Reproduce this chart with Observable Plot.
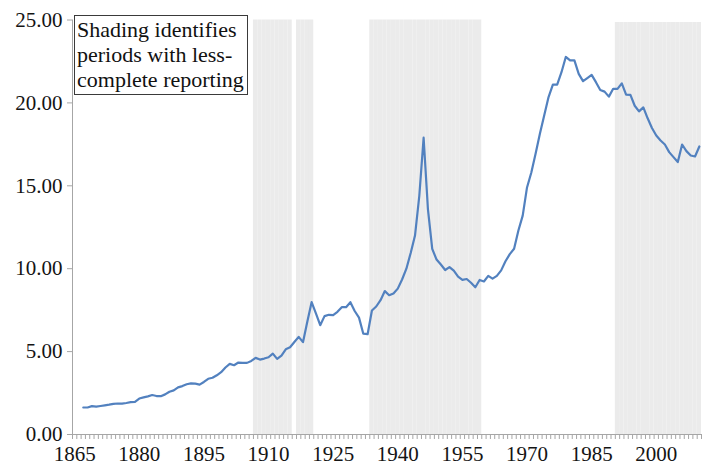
<!DOCTYPE html>
<html>
<head>
<meta charset="utf-8">
<script src="https://cdn.jsdelivr.net/npm/d3@7"></script>
<script src="https://cdn.jsdelivr.net/npm/@observablehq/plot@0.6"></script>
<style>
  body { margin: 0; background: #fff; }
  #wrap { position: relative; width: 714px; height: 474px; font-family: "Liberation Serif", "Times New Roman", serif; }
  #note {
    position: absolute; left: 74px; top: 15px;
    border: 1.5px solid #3a3a3a; background: #fff;
    font-family: "Liberation Serif", "Times New Roman", serif;
    font-size: 22px; line-height: 25px; color: #111;
    padding: 1px 3px 2px 2px; white-space: nowrap;
  }
</style>
</head>
<body>
<div id="wrap"><div id="note">Shading identifies<br>periods with less-<br>complete reporting</div></div>
<script>
// Categories (years)
const years = [
  1867, 1868, 1869,
  1870, 1871, 1872, 1873, 1874, 1875, 1876, 1877, 1878, 1879,
  1880, 1881, 1882, 1883, 1884, 1885, 1886, 1887, 1888, 1889,
  1890, 1891, 1892, 1893, 1894, 1895, 1896, 1897, 1898, 1899,
  1900, 1901, 1902, 1903, 1904, 1905, 1906, 1907, 1908, 1909,
  1910, 1911, 1912, 1913, 1914, 1915, 1916, 1917, 1918, 1919,
  1920, 1921, 1922, 1923, 1924, 1925, 1926, 1927, 1928, 1929,
  1930, 1931, 1932, 1933, 1934, 1935, 1936, 1937, 1938, 1939,
  1940, 1941, 1942, 1943, 1944, 1945, 1946, 1947, 1948, 1949,
  1950, 1951, 1952, 1953, 1954, 1955, 1956, 1957, 1958, 1959,
  1960, 1961, 1962, 1963, 1964, 1965, 1966, 1967, 1968, 1969,
  1970, 1971, 1972, 1973, 1974, 1975, 1976, 1977, 1978, 1979,
  1980, 1981, 1982, 1983, 1984, 1985, 1986, 1987, 1988, 1989,
  1990, 1991, 1992, 1993, 1994, 1995, 1996, 1997, 1998, 1999,
  2000, 2001, 2002, 2003, 2004, 2005, 2006, 2007, 2008, 2009, 2010
];
// Series values
const values = [
  1.63, 1.63, 1.71,
  1.68, 1.72, 1.76, 1.80, 1.85, 1.87, 1.86, 1.90, 1.95, 1.97,
  2.17, 2.24, 2.30, 2.38, 2.32, 2.31, 2.42, 2.58, 2.66, 2.84,
  2.92, 3.03, 3.08, 3.07, 3.01, 3.17, 3.36, 3.42, 3.57, 3.76,
  4.04, 4.26, 4.18, 4.34, 4.32, 4.32, 4.44, 4.62, 4.52, 4.58,
  4.66, 4.88, 4.56, 4.76, 5.14, 5.26, 5.58, 5.89, 5.57, 6.80,
  7.98, 7.30, 6.59, 7.14, 7.22, 7.20, 7.40, 7.68, 7.68, 7.98,
  7.45, 7.05, 6.08, 6.05, 7.48, 7.72, 8.10, 8.65, 8.40, 8.50,
  8.80, 9.35, 10.00, 10.95, 12.00, 14.40, 17.90, 13.60, 11.20, 10.55,
  10.25, 9.92, 10.10, 9.88, 9.52, 9.33, 9.38, 9.15, 8.88, 9.32,
  9.23, 9.57, 9.40, 9.57, 9.90, 10.45, 10.88, 11.20, 12.30, 13.20,
  14.90, 15.80, 16.95, 18.15, 19.25, 20.35, 21.10, 21.10, 21.85, 22.77,
  22.56, 22.56, 21.75, 21.31, 21.50, 21.69, 21.25, 20.78, 20.68, 20.38,
  20.85, 20.85, 21.18, 20.50, 20.48, 19.83, 19.49, 19.73, 19.07, 18.49,
  18.03, 17.73, 17.49, 17.03, 16.73, 16.43, 17.49, 17.09, 16.83, 16.77, 17.37
];
// Shaded periods (less-complete reporting): first year, last year, top value
const shadeStart = [1907, 1917, 1934, 1991];
const shadeEnd   = [1915, 1920, 1959, 2010];
const shadeTop   = [25, 25, 25, 24.85];
// Tick labels
const xTickLabels = [1865, 1880, 1895, 1910, 1925, 1940, 1955, 1970, 1985, 2000];
const yTicks = [0, 5, 10, 15, 20, 25];
const firstCategory = 1865, lastCategory = 2010;

const data = years.map((y, i) => ({year: y, value: values[i]}));
const shadeRects = [];
shadeStart.forEach((s, k) => {
  for (let y = s; y <= shadeEnd[k]; y++) shadeRects.push({x1: y - 0.5, x2: y + 0.5, top: shadeTop[k]});
});
const yearBoundaries = d3.range(firstCategory - 0.5, lastCategory + 1, 1);

const axisGray = "#a6a6a6";
const textColor = "#141414";

const chart = Plot.plot({
  width: 714,
  height: 474,
  marginLeft: 72,
  marginRight: 13,
  marginTop: 19.5,
  marginBottom: 40,
  style: {fontFamily: "'Liberation Serif', 'Times New Roman', serif", background: "#fff", color: textColor},
  x: {domain: [firstCategory - 0.5, lastCategory + 0.5], axis: null, label: null},
  y: {domain: [0, 25], axis: null, label: null},
  marks: [
    Plot.rect(shadeRects, {x1: "x1", x2: "x2", y1: 0, y2: "top", fill: "#ebebeb"}),
    Plot.frame({anchor: "left", stroke: axisGray}),
    Plot.frame({anchor: "bottom", stroke: axisGray}),
    Plot.axisY({ticks: yTicks, tickSize: 5, tickPadding: 5, stroke: axisGray, fill: textColor,
      fontSize: 21, tickFormat: d => d.toFixed(2), label: null}),
    Plot.axisX({ticks: yearBoundaries, tickSize: 5, stroke: axisGray, tickFormat: () => "", label: null}),
    Plot.axisX({ticks: xTickLabels, tickSize: 0, tickPadding: 12, fill: textColor,
      fontSize: 21, tickFormat: d => String(d), label: null}),
    Plot.line(data, {x: "year", y: "value", stroke: "#5281bf", strokeWidth: 2.2})
  ]
});
document.getElementById("wrap").prepend(chart);
</script>
</body>
</html>
